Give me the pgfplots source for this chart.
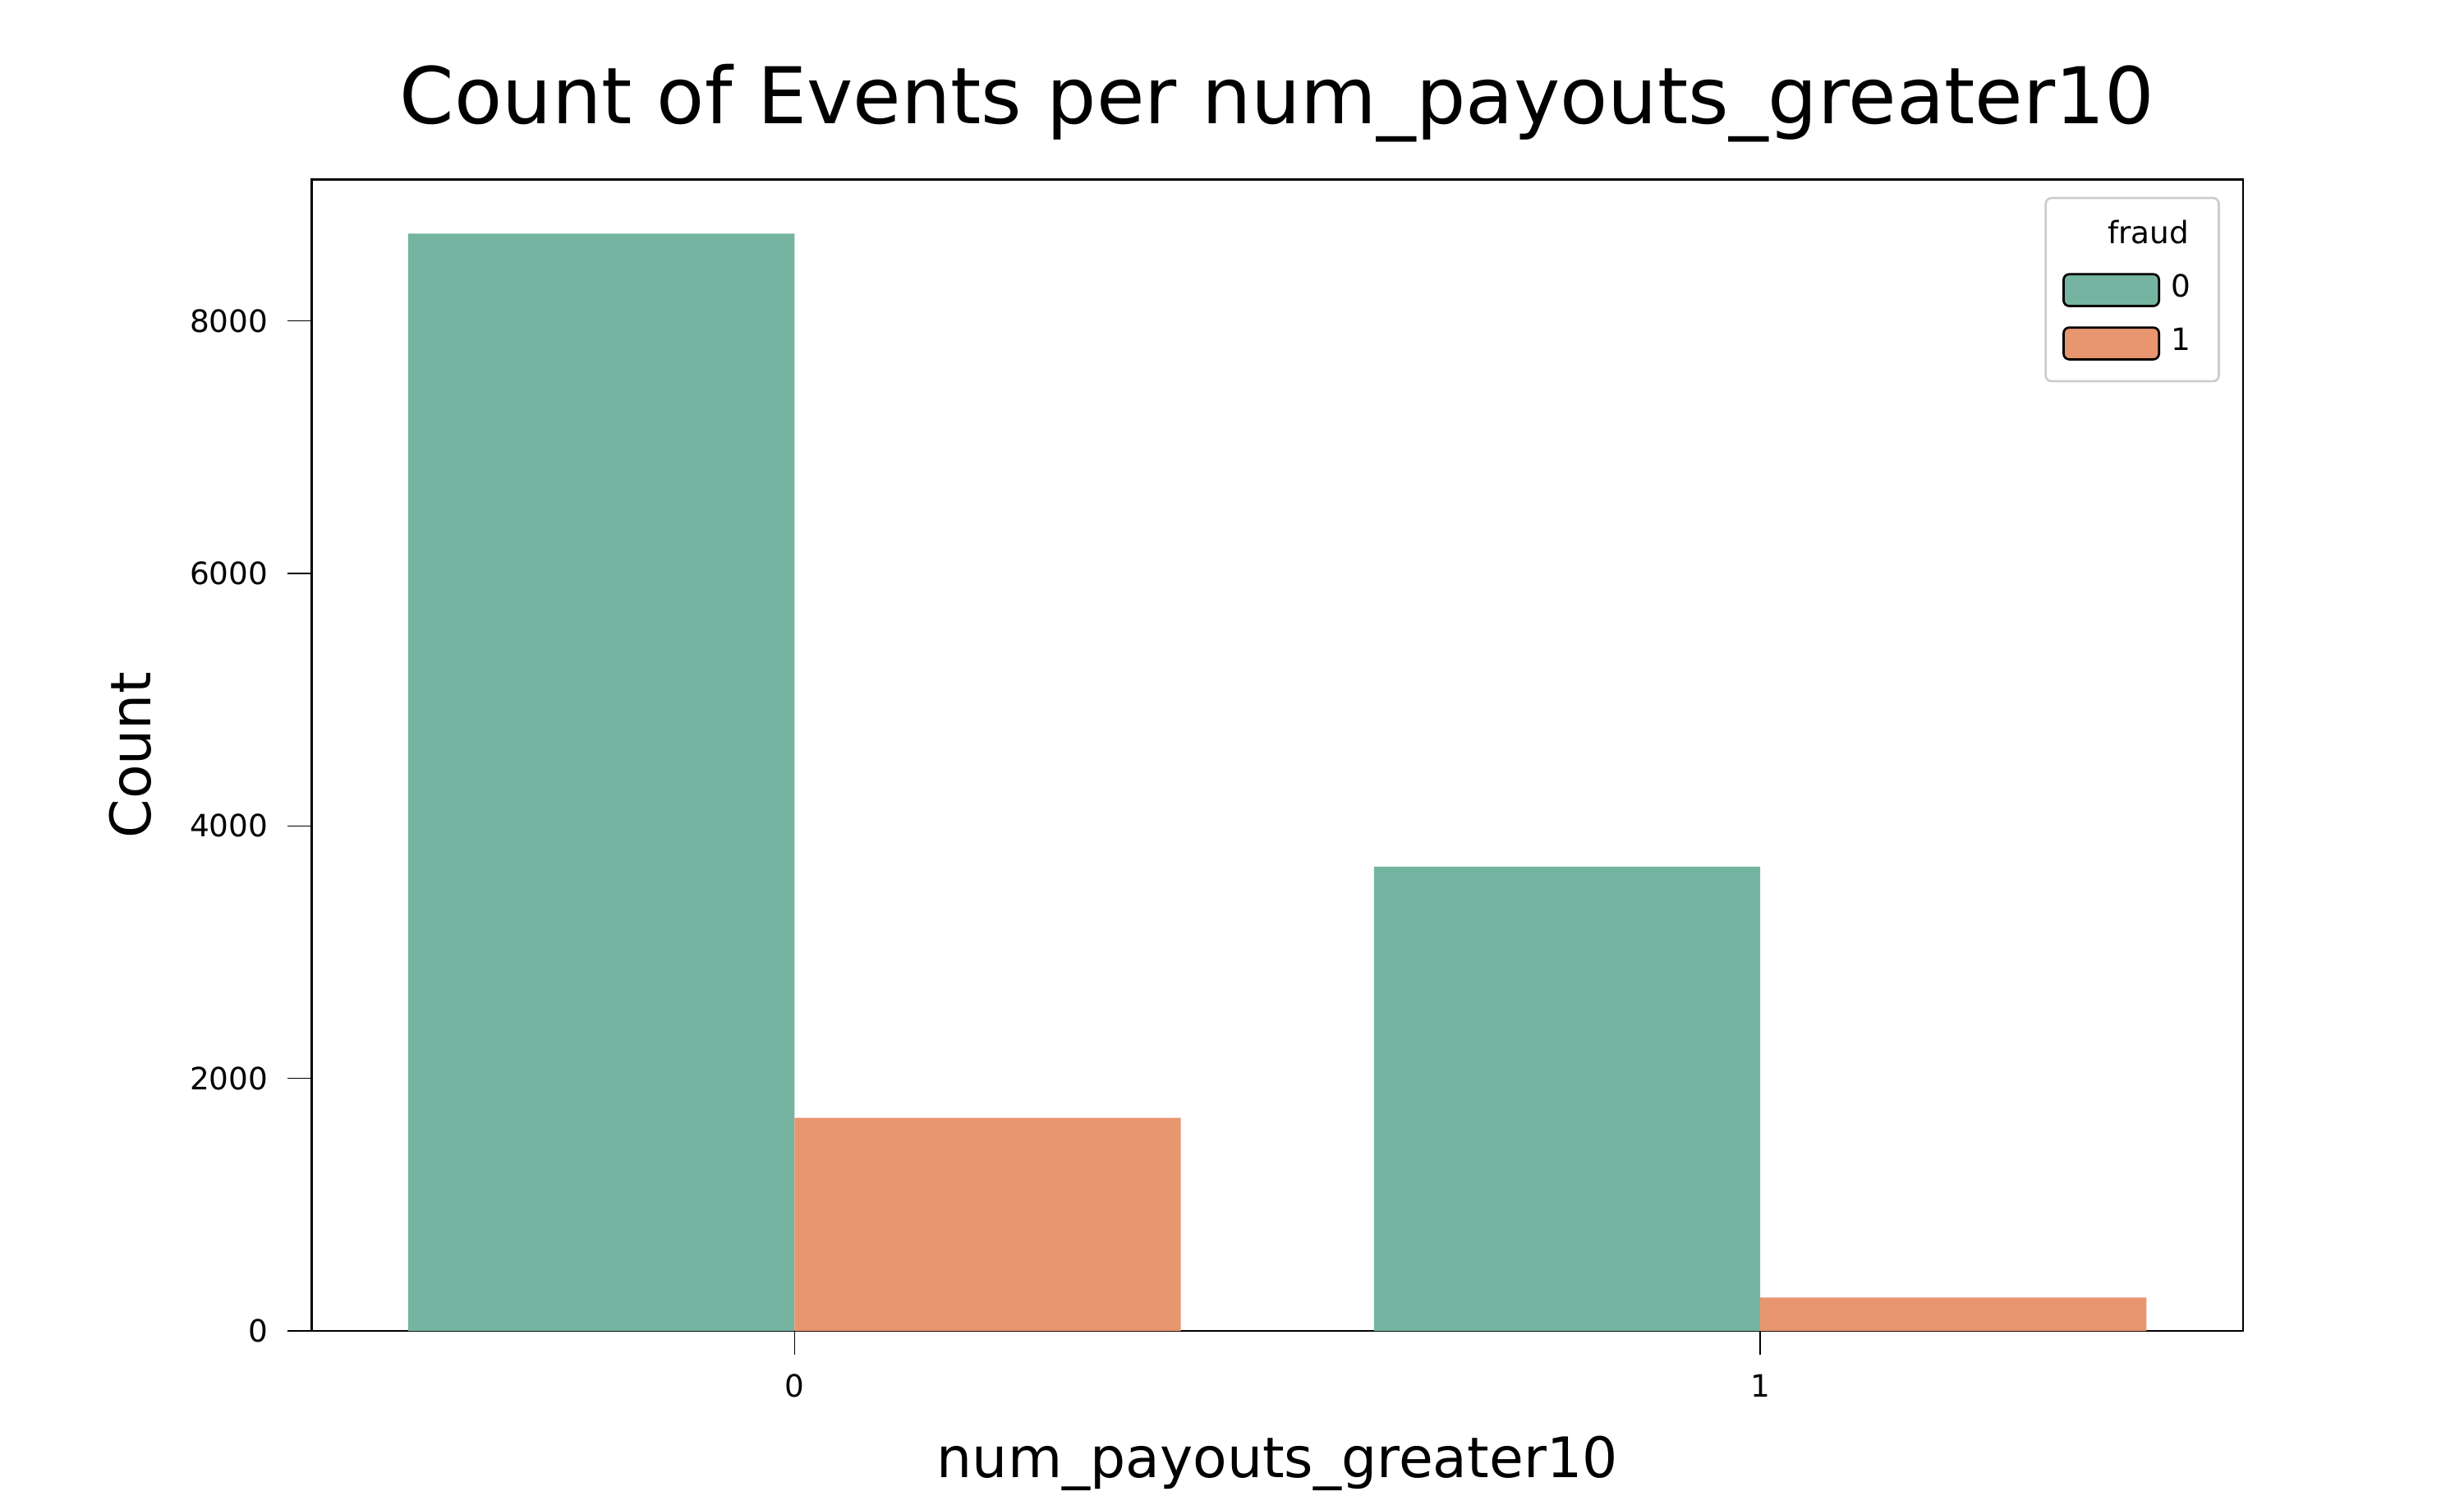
\documentclass[border=0pt]{standalone}
\usepackage{pgfplots}
\pgfplotsset{compat=1.18}
\usepackage{fontspec}
\setmainfont{DejaVu Sans}
\definecolor{cg}{HTML}{74B4A0}
\definecolor{co}{HTML}{E8966F}
\begin{document}
\begin{tikzpicture}
\path (-1.96cm,-0.93cm) rectangle (13.54cm,8.37cm);
\begin{axis}[at={(0,0)},anchor=south west,scale only axis,width=12.15cm,height=7.24cm,
 xmin=-0.5,xmax=1.5,ymin=0,ymax=9118,
 xtick={0,1},ytick={0,2000,4000,6000,8000},
 scaled y ticks=false,
 /pgf/number format/assume math mode=true,
 /pgf/number format/1000 sep={},
 tick label style={font=\fontsize{5.5}{6}\selectfont},
 tick align=outside, tick style={black},
 xtick pos=bottom, ytick pos=left,
 title={Count of Events per num\_payouts\_greater10},
 title style={font=\fontsize{14}{16}\selectfont,yshift=-1mm},
 xlabel={num\_payouts\_greater10}, ylabel={Count},
 label style={font=\fontsize{10}{12}\selectfont},
 legend style={at={(0.988,0.985)},anchor=north east,font=\fontsize{5.5}{6}\selectfont,draw=black!20,rounded corners=1pt,cells={anchor=west}},
 legend cell align=left,
]
\addlegendimage{empty legend}\addlegendentry{\hspace{-4mm}fraud}
\addplot[ybar,bar width=0.4,bar shift=-0.2,fill=cg,draw=none,area legend] coordinates {(0,8690) (1,3678)};
\addlegendentry{0}
\addplot[ybar,bar width=0.4,bar shift=0.2,fill=co,draw=none,area legend] coordinates {(0,1688) (1,264)};
\addlegendentry{1}
\end{axis}
\end{tikzpicture}
\end{document}
